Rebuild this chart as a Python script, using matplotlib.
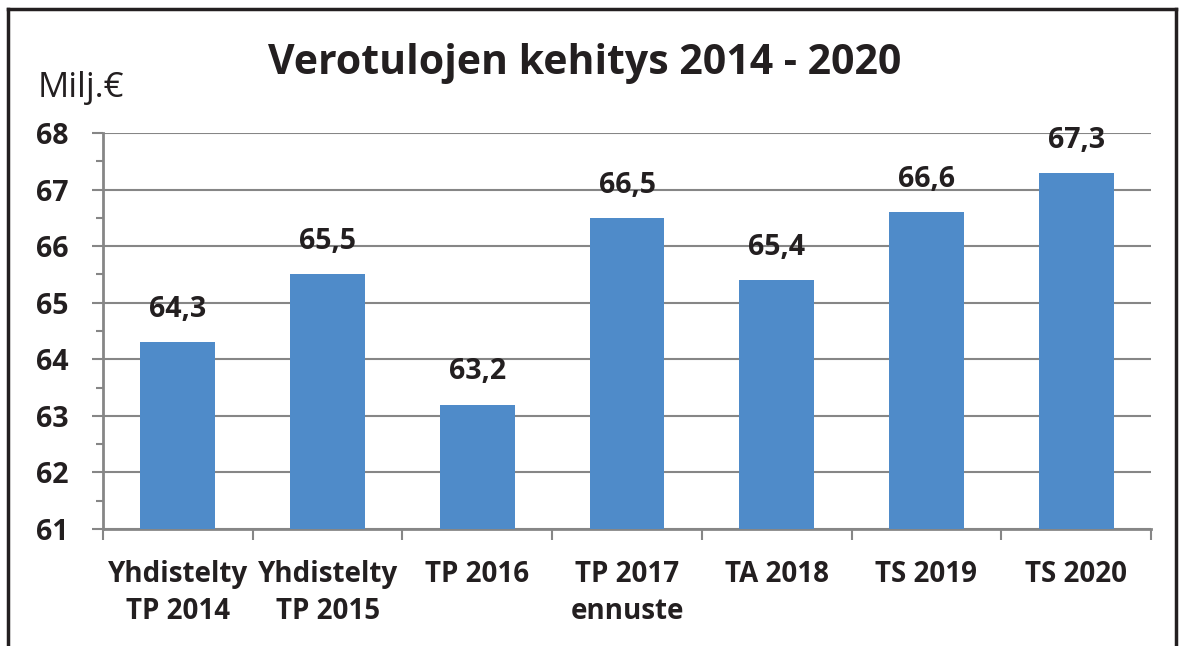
import matplotlib.pyplot as plt
from matplotlib.lines import Line2D

plt.rcParams['font.family'] = ['Open Sans', 'DejaVu Sans']

categories = ['Yhdistelty\nTP 2014', 'Yhdistelty\nTP 2015', 'TP 2016',
              'TP 2017\nennuste', 'TA 2018', 'TS 2019', 'TS 2020']
values = [64.3, 65.5, 63.2, 66.5, 65.4, 66.6, 67.3]
value_labels = ['64,3', '65,5', '63,2', '66,5', '65,4', '66,6', '67,3']
yticks = [61, 62, 63, 64, 65, 66, 67, 68]

bar_color = '#4F8BC9'
grid_color = '#868686'
text_color = '#231F20'

fig = plt.figure(figsize=(11.84, 6.46), dpi=100)
ax = fig.add_axes([103 / 1184, 1 - 529 / 646, 1048 / 1184, 396 / 646])

x = list(range(len(categories)))
ax.bar(x, [v - 61 for v in values], bottom=61, width=0.5, color=bar_color,
       zorder=3)

for xi, v, lab in zip(x, values, value_labels):
    ax.annotate(lab, (xi, v), xytext=(0, 13), textcoords='offset points',
                ha='center', va='bottom', fontsize=20.5, fontweight='bold',
                color=text_color)

ax.set_xlim(-0.5, len(categories) - 0.5)
ax.set_ylim(61, 68)

# y axis
ax.set_yticks(yticks)
ax.set_yticks([y + 0.5 for y in yticks[:-1]], minor=True)
ax.tick_params(axis='y', which='major', length=8, width=1.5, color=grid_color,
               pad=17, labelsize=20.5, labelcolor=text_color)
ax.tick_params(axis='y', which='minor', length=5, width=1.5, color=grid_color)
for lab in ax.get_yticklabels():
    lab.set_fontweight('bold')
ax.yaxis.grid(True, color=grid_color, linewidth=1.5, zorder=0)

# x axis: ticks at category boundaries, labels at centres
ax.set_xticks([i - 0.5 for i in range(len(categories) + 1)])
ax.set_xticklabels([])
ax.set_xticks(x, minor=True)
ax.set_xticklabels(categories, minor=True)
ax.tick_params(axis='x', which='major', length=8, width=1.5, color=grid_color)
ax.tick_params(axis='x', which='minor', length=0, pad=22, labelsize=20,
               labelcolor=text_color)
for lab in ax.get_xticklabels(minor=True):
    lab.set_fontweight('bold')
    lab.set_linespacing(1.4)

for s in ['top', 'right']:
    ax.spines[s].set_visible(False)
for s in ['left', 'bottom']:
    ax.spines[s].set_color(grid_color)
    ax.spines[s].set_linewidth(2)

fig.text(0.494, 1 - 63 / 646, 'Verotulojen kehitys 2014 - 2020', ha='center',
         va='center', fontsize=29.5, fontweight='bold', color=text_color)
fig.text(38 / 1184, 1 - 88 / 646, 'Milj.€', ha='left', va='center',
         fontsize=25, color=text_color)

# outer frame (top, left and right edges)
fl, fr, ft = 8 / 1184, 1176 / 1184, 1 - 9 / 646
for xs, ys in [([fl, fr], [ft, ft]), ([fl, fl], [0, ft]), ([fr, fr], [0, ft])]:
    fig.add_artist(Line2D(xs, ys, color='#231F20', linewidth=2.5))

fig.savefig('out.png', dpi=100)
